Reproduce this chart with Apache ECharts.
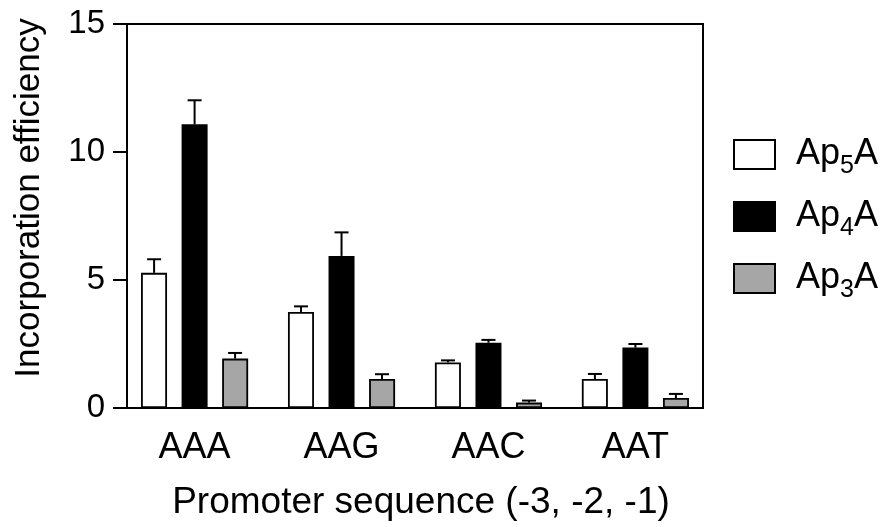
<!DOCTYPE html>
<html>
<head>
<meta charset="utf-8">
<script src="https://cdn.jsdelivr.net/npm/echarts@6/dist/echarts.min.js"></script>
<style>
  html, body { margin: 0; padding: 0; background: #fff; }
  #chart { width: 890px; height: 527px; }
</style>
</head>
<body>
<div id="chart"></div>
<script>
var categories = ['AAA', 'AAG', 'AAC', 'AAT'];
var yTicks = [0, 5, 10, 15];
// mean values
var ap5Mean = [5.28, 3.75, 1.78, 1.13];
var ap4Mean = [11.08, 5.94, 2.55, 2.36];
var ap3Mean = [1.93, 1.13, 0.21, 0.39];
// upper error (SD)
var ap5Err = [0.53, 0.22, 0.08, 0.20];
var ap4Err = [0.94, 0.92, 0.11, 0.14];
var ap3Err = [0.22, 0.19, 0.08, 0.16];

var FONT = "'Liberation Sans', Arial, Helvetica, sans-serif";

var chart = echarts.init(document.getElementById('chart'));

// one bar series
function barSeries(name, color, mean) {
    return {
        name : name,
        type : 'bar',
        barWidth : 26,
        barGap : '56%',
        itemStyle : {
            color : color,
            borderColor : '#000',
            borderWidth : 1.8
        },
        data : mean.map(function(v, i) {
            return [i, v];
        })
    };
}

// error bar drawn above a bar, shifted by px offset
function errSeries(mean, err, offset) {
    return {
        type : 'custom',
        silent : true,
        z : 5,
        renderItem : function(params, api) {
            var x = api.value(0);
            var base = api.coord([x, api.value(1)]);
            var top = api.coord([x, api.value(1) + api.value(2)]);
            var cx = base[0] + offset;
            var style = { stroke : '#000', lineWidth : 2 };
            return {
                type : 'group',
                children : [ {
                    type : 'line',
                    shape : { x1 : cx, y1 : base[1], x2 : cx, y2 : top[1] },
                    style : style
                }, {
                    type : 'line',
                    shape : { x1 : cx - 7, y1 : top[1], x2 : cx + 7, y2 : top[1] },
                    style : style
                } ]
            };
        },
        data : mean.map(function(v, i) {
            return [i, v, err[i]];
        })
    };
}

var legendName = {
    'Ap5A' : '{p|Ap}{s|5}{a|A}',
    'Ap4A' : '{p|Ap}{s|4}{a|A}',
    'Ap3A' : '{p|Ap}{s|3}{a|A}'
};

var option = {
    animation : false,
    textStyle : { fontFamily : FONT },
    grid : {
        left : 127,
        right : 187,
        top : 24,
        bottom : 119,
        show : true,
        borderColor : '#000',
        borderWidth : 2,
        backgroundColor : 'transparent'
    },
    legend : {
        orient : 'vertical',
        left : 733,
        top : 130,
        padding : 0,
        itemWidth : 41,
        itemHeight : 29,
        itemGap : 13,
        icon : 'rect',
        selectedMode : false,
        data : ['Ap5A', 'Ap4A', 'Ap3A'],
        formatter : function(name) {
            return legendName[name];
        },
        textStyle : {
            rich : {
                p : { fontSize : 36, lineHeight : 40, color : '#000', fontFamily : FONT, padding : [0, 0, 0, 16] },
                a : { fontSize : 36, lineHeight : 40, color : '#000', fontFamily : FONT },
                s : { fontSize : 25, lineHeight : 14, color : '#000', fontFamily : FONT, padding : [24, 0, 0, 0] }
            }
        }
    },
    xAxis : {
        type : 'value',
        min : -0.46,
        max : 3.46,
        name : 'Promoter sequence (-3, -2, -1)',
        nameLocation : 'middle',
        nameGap : 76,
        nameTextStyle : { fontSize : 37, color : '#000', fontFamily : FONT, padding : [0, 0, 0, 12] },
        axisLine : { show : true, onZero : false, lineStyle : { color : '#000', width : 2 } },
        axisTick : { show : false },
        splitLine : { show : false },
        axisLabel : {
            customValues : [0, 1, 2, 3],
            fontSize : 36,
            color : '#000',
            margin : 22,
            formatter : function(v) {
                return categories[Math.round(v)] || '';
            }
        }
    },
    yAxis : {
        type : 'value',
        min : 0,
        max : 15,
        interval : 5,
        name : 'Incorporation efficiency',
        nameLocation : 'middle',
        nameGap : 80,
        nameTextStyle : { fontSize : 35, color : '#000', fontFamily : FONT, padding : [0, 0, 0, 36] },
        axisLine : { show : true, onZero : false, lineStyle : { color : '#000', width : 2 } },
        axisTick : { show : true, inside : false, length : 14, lineStyle : { color : '#000', width : 2 } },
        splitLine : { show : false },
        axisLabel : {
            fontSize : 33,
            color : '#000',
            margin : 22,
            formatter : function(v) {
                return yTicks.indexOf(v) >= 0 ? String(v) : '';
            }
        }
    },
    series : [
        barSeries('Ap5A', '#ffffff', ap5Mean),
        barSeries('Ap4A', '#000000', ap4Mean),
        barSeries('Ap3A', '#a6a6a6', ap3Mean),
        errSeries(ap5Mean, ap5Err, -40.5),
        errSeries(ap4Mean, ap4Err, 0),
        errSeries(ap3Mean, ap3Err, 40.5)
    ]
};
chart.setOption(option);
</script>
</body>
</html>
